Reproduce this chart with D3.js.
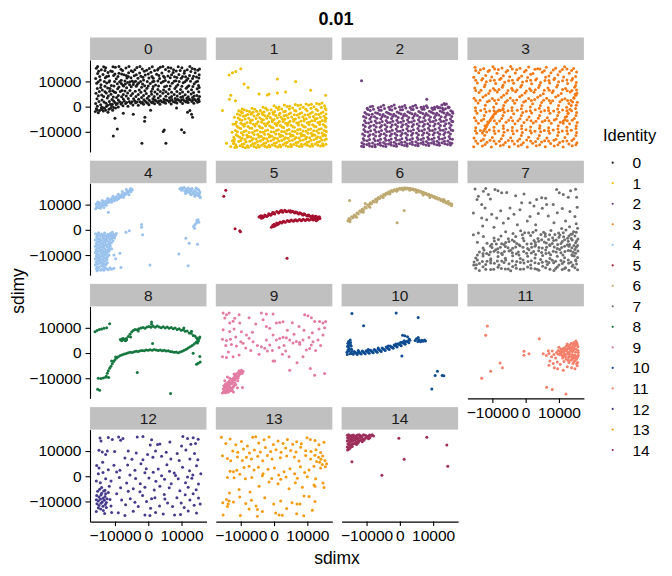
<!DOCTYPE html>
<html>
<head>
<meta charset="utf-8">
<script src="https://cdn.jsdelivr.net/npm/d3@7"></script>
<style>
  html, body { margin: 0; padding: 0; background: #ffffff; }
  svg { display: block; font-family: "Liberation Sans", Arial, sans-serif; }
</style>
</head>
<body>
<svg id="chart" width="672" height="576"></svg>
<script>
// ---------------- data (values in thousands: "x,y") ----------------
const categories = ["0","1","2","3","4","5","6","7","8","9","10","11","12","13","14"];
const colors = ["#1c1c1c","#efbf00","#6f3f7e","#f47a16","#98c1ec","#a6112f","#bda970","#6f6f6f",
                "#15773f","#e27aa1","#0e4c92","#f47f6b","#463a8c","#f49b12","#9e2e5a"];
const xTicks = [-10000, 0, 10000];
const yTicks = [-10000, 0, 10000];
const title = "0.01";

const pts0 = `-15.6,15.2 -14.1,14.6 -12.8,15.4 -11.3,14.1 -9.9,15.6 -8.2,14.8 -6.7,15.3 -5.1,14.2 -3.4,15.5 -1.8,14.9 0.3,15.1 1.9,14.3 3.6,15.6 5.2,14.7 6.8,15.3 8.4,14.1 10.1,15.4 11.7,14.6 13.2,15.1 14.9,14.4
-15.2,13.1 -13.6,12.7 -12.1,13.5 -10.4,12.4 -8.8,13.2 -7.3,12.6 -5.9,13.4 -4.2,12.3 -2.6,13.3 -0.9,12.5 0.8,13.6 2.5,12.8 4.1,13.3 5.9,12.2 7.5,13.5 9.2,12.7 10.8,13.2 12.4,12.4 14.1,13.4 15.3,12.6
-15.8,11.2 -14.4,10.6 -12.9,11.5 -11.6,10.3 -9.6,11.1 -8.1,10.5 -6.4,11.4 -4.8,10.2 -3.1,11.3 -1.4,10.6 0.2,11.4 1.7,10.1 3.4,11.2 5.1,10.4 6.6,11.5 8.3,10.3 9.9,11.3 11.5,10.5 13.3,11.2 14.8,10.1
-15.5,9.3 -14.2,8.7 -12.5,9.4 -11.1,8.4 -9.3,9.1 -7.6,8.5 -6.2,9.6 -4.5,8.8 -2.9,9.4 -1.1,8.3 0.6,9.2 2.2,8.6 3.9,9.5 5.5,8.2 7.2,9.3 8.9,8.7 10.5,9.5 12.2,8.3 13.8,9.1 15.1,8.4
-15.3,7.2 -13.8,6.6 -12.2,7.4 -10.7,6.3 -9.2,7.1 -7.9,6.4 -6.5,7.5 -5.1,7.9 -3.6,8.1 -2.0,7.7 -0.4,7.3 1.3,7.0 2.9,6.8 4.6,6.6 6.3,6.9 8.0,7.2 9.7,6.8 11.4,7.3 13.0,6.7 14.7,7.1
-15.7,5.3 -14.0,4.6 -12.6,5.4 -11.2,4.9 -9.8,5.6 -8.4,6.0 -7.0,6.2 -5.5,6.4 -3.9,6.1 -2.2,5.7 -0.6,5.2 1.0,4.9 2.7,5.0 4.4,5.3 6.0,5.1 7.8,4.8 9.5,5.2 11.1,4.7 12.9,5.0 14.6,4.4
-15.4,3.1 -13.9,2.6 -12.3,3.4 -10.9,2.8 -9.5,3.6 -8.0,3.9 -6.6,4.2 -5.2,4.4 -3.7,4.0 -2.0,3.6 -0.3,3.3 1.4,3.1 3.0,3.4 4.7,3.0 6.4,3.5 8.1,3.2 9.8,3.7 11.6,3.3 13.3,3.6 15.0,3.1
-15.8,1.2 -14.3,0.7 -12.7,1.3 -11.4,0.9 -10.0,1.6 -8.6,1.9 -7.2,2.2 -5.7,2.0 -4.1,2.3 -2.5,1.9 -0.9,2.1 0.8,1.8 2.4,2.2 4.1,1.9 5.8,2.4 7.5,2.0 9.2,2.5 10.9,2.2 12.6,2.7 14.3,2.4
-15.6,-0.8 -14.6,-1.5 -13.2,-0.6 -11.8,-1.0 -10.4,-0.3 -9.0,-0.1 -7.6,0.3 -6.1,0.2 -4.6,0.6 -3.0,0.5 -1.4,0.9 0.2,0.7 1.9,1.1 3.5,0.9 5.2,1.3 6.9,1.0 8.6,1.4 10.3,1.2 12.0,1.6 13.7,1.3
-15.9,-1.9 -15.0,-2.4 -13.5,-1.7 -12.1,-2.2 -10.7,-1.4
-14.9,14.0 -13.4,15.8 -11.9,12.2 -10.8,13.9 -9.1,12.0 -7.7,14.3 -6.0,12.0 -4.6,13.8 -2.2,12.1 -1.2,14.0 1.1,12.0 2.8,14.5 4.6,12.1 6.2,14.0 7.9,11.9 9.6,14.3 11.2,11.9 12.8,13.9 14.5,11.8 15.4,14.9
-15.0,9.9 -13.2,10.0 -11.8,9.8 -10.1,10.0 -8.6,9.9 -7.0,10.2 -5.5,9.9 -3.8,10.1 -2.3,10.0 -0.3,10.0 1.3,9.9 2.9,10.2 4.5,10.0 6.1,9.8 7.8,10.1 9.3,10.0 11.0,9.9 12.7,10.1 14.3,9.8
-14.7,6.0 -13.0,5.9 -11.6,6.1 -10.2,5.8 -8.8,7.8 -7.4,8.2 -4.3,9.7 -2.7,6.6 -1.0,6.3 0.9,6.0 2.0,5.8 3.6,6.0 5.3,5.9 7.0,5.7 8.6,6.0 10.3,5.8 12.0,5.9 13.6,5.6 15.2,5.9
-14.8,2.0 -13.3,1.8 -11.7,2.0 -10.4,2.2 -9.0,2.6 -7.5,3.0 -6.0,3.2 -4.4,3.1 -2.9,2.9 -1.3,2.7 0.3,2.5 2.0,2.7 3.7,2.4 5.4,2.6 7.1,2.8 8.8,2.9 10.5,2.8 12.2,3.0 13.9,2.9 15.3,2.0
-14.1,-0.4 -12.6,0.1 -11.0,0.3 -9.6,0.8 -8.2,1.0 -6.8,1.2 -5.3,1.3 -3.8,1.5 -2.1,1.4 -0.5,1.6 1.2,1.5 2.9,1.6 4.6,1.7 6.3,1.8 8.0,1.7 9.7,1.9 11.4,1.8 13.1,2.0 14.8,1.7
-10.0,-4.6 -9.3,-8.9 -10.5,-11.7 -1.9,-14.5 -1.0,-4.2 -1.1,-5.8 4.5,-9.9 5.3,-14.5 4.8,-9.3 10.0,-9.2 10.8,-10.3 -7.5,-2.6 -4.5,-3.0 0.7,-1.4 8.5,-0.5 12.5,-1.5 13.0,-3.0 13.3,-4.2 11.8,-2.2`;
const pts0Extra = `-15.2,15.9 -13.0,14.3 -10.6,15.8 -8.8,15.9 -5.8,15.9 -4.0,14.6 -2.5,15.9 -0.5,14.4 1.2,15.8 3.0,15.0 4.4,15.9 6.0,15.5 7.6,14.6 9.0,15.8 10.9,14.1 12.5,15.9 14.0,14.8
-14.6,12.0 -12.5,12.0 -10.0,12.9 -8.0,12.9 -6.6,12.4 -5.2,11.5 -3.6,12.6 -1.6,11.7 0.0,12.9 1.5,11.3 3.2,12.4 4.9,11.6 7.0,12.6 8.6,11.6 10.3,12.0 11.9,11.2 13.6,12.1 15.2,11.4
-14.3,7.6 -13.0,8.1 -11.5,7.2 -10.3,8.2 -8.1,9.2 -6.9,9.0 -5.6,8.7 -3.3,8.8 -1.7,9.0 0.0,8.2 1.5,8.0 3.1,8.2 4.9,7.9 6.6,8.2 8.4,8.0 10.1,8.1 11.8,7.9 13.4,8.0 15.3,7.6
-15.0,4.3 -13.4,4.0 -12.0,4.2 -10.5,3.8 -9.0,4.4 -7.5,4.8 -6.2,5.4 -4.7,5.2 -3.0,4.8 -1.4,4.4 0.2,4.1 1.8,4.0 3.6,4.2 5.3,4.1 7.0,4.0 8.7,4.2 10.4,4.0 12.0,3.9 13.8,4.2 15.4,4.0
-15.3,0.2 -13.8,-0.2 -12.2,0.5 -10.8,0.9 -9.3,1.2 -7.9,1.5 -6.5,1.6 -4.9,1.9 -3.4,1.8 -1.8,1.7 -0.2,1.3 1.5,2.0 3.2,2.1 4.9,2.4 6.6,2.4 8.3,2.4 10.0,2.6 11.7,2.5 13.4,2.6 15.2,2.7
-15.3,-1.3 -14.0,-1.1 -12.8,-1.4 -11.3,-0.6 -9.8,-0.5`;

const pts1 = `-10.6,-1.6 -9.0,-1.2 -7.4,-1.9 -5.8,-1.0 -4.1,-1.5 -2.5,-0.6 -0.9,-1.2 0.7,-0.3 2.3,-0.9 3.9,0.1 5.6,-0.5 7.2,0.4 8.8,-0.2 10.4,0.6 12.0,0.0 13.6,0.9 15.2,0.3
-11.0,-2.9 -9.5,-2.4 -7.9,-3.1 -6.3,-2.2 -4.6,-2.8 -3.0,-2.1 -1.4,-2.7 0.2,-1.9 1.8,-2.6 3.4,-1.8 5.0,-2.5 6.6,-1.7 8.3,-2.4 9.9,-1.6 11.5,-2.2 13.1,-1.5 14.7,-2.1 15.6,-1.2
-10.8,-4.5 -9.2,-3.8 -7.6,-4.6 -6.0,-3.7 -4.3,-4.4 -2.7,-3.6 -1.1,-4.3 0.5,-3.5 2.1,-4.2 3.7,-3.4 5.3,-4.1 7.0,-3.3 8.6,-4.0 10.2,-3.2 11.8,-3.9 13.4,-3.1 15.0,-3.8
-11.3,-6.1 -9.7,-5.4 -8.1,-6.3 -6.5,-5.3 -4.8,-6.0 -3.2,-5.2 -1.6,-6.1 0.0,-5.1 1.6,-5.9 3.2,-5.0 4.8,-5.8 6.4,-4.9 8.1,-5.7 9.7,-4.8 11.3,-5.6 12.9,-4.7 14.5,-5.5 15.6,-4.6
-11.1,-7.8 -9.4,-7.1 -7.8,-7.9 -6.2,-7.0 -4.5,-7.7 -2.9,-6.8 -1.3,-7.6 0.3,-6.7 1.9,-7.5 3.5,-6.6 5.1,-7.4 6.8,-6.5 8.4,-7.3 10.0,-6.4 11.6,-7.2 13.2,-6.3 14.8,-7.1
-11.6,-9.5 -10.0,-8.7 -8.4,-9.6 -6.7,-8.6 -5.1,-9.4 -3.5,-8.5 -1.9,-9.3 -0.3,-8.4 1.3,-9.2 2.9,-8.3 4.5,-9.1 6.1,-8.2 7.8,-9.0 9.4,-8.1 11.0,-8.9 12.6,-8.0 14.2,-8.8 15.6,-8.1
-11.4,-11.2 -9.8,-10.4 -8.2,-11.3 -6.5,-10.3 -4.9,-11.1 -3.3,-10.2 -1.7,-11.0 -0.1,-10.1 1.5,-10.9 3.1,-10.0 4.7,-10.8 6.3,-9.9 8.0,-10.7 9.6,-9.8 11.2,-10.6 12.8,-9.7 14.4,-10.5 15.7,-9.9
-11.9,-12.9 -10.3,-12.1 -8.7,-13.0 -7.0,-12.0 -5.4,-12.8 -3.8,-11.9 -2.2,-12.7 -0.6,-11.8 1.0,-12.6 2.6,-11.7 4.2,-12.5 5.8,-11.6 7.5,-12.4 9.1,-11.5 10.7,-12.3 12.3,-11.4 13.9,-12.2 15.5,-11.5
-12.2,-14.6 -10.6,-13.8 -9.0,-14.7 -7.3,-13.7 -5.7,-14.5 -4.1,-13.6 -2.5,-14.4 -0.9,-13.5 0.7,-14.3 2.3,-13.4 3.9,-14.2 5.5,-13.3 7.2,-14.1 8.8,-13.2 10.4,-14.0 12.0,-13.1 13.6,-13.9 15.2,-13.2
-11.8,-16.2 -10.2,-15.5 -8.6,-16.3 -6.9,-15.4 -5.3,-16.2 -3.7,-15.3 -2.1,-16.1 -0.5,-15.2 1.1,-16.0 2.7,-15.1 4.3,-15.9 5.9,-15.0 7.6,-15.8 9.2,-14.9 10.8,-15.7 12.4,-14.8 14.0,-15.6 15.6,-14.9
-10.0,-2.0 -8.2,-1.6 -6.8,-2.6 -5.2,-1.8 -3.6,-2.4 -2.0,-1.3 -0.3,-2.2 1.3,-1.1 2.9,-2.0 4.6,-0.9 6.2,-1.5 7.8,-0.8 9.5,-1.0 11.1,-0.6 12.7,-1.0 14.2,-0.3 15.4,-0.7
-10.3,-5.1 -8.7,-4.9 -7.1,-5.5 -5.4,-4.7 -3.8,-5.0 -2.2,-4.6 -0.6,-5.2 1.0,-4.5 2.6,-5.0 4.2,-4.4 5.9,-5.0 7.5,-4.3 9.1,-4.9 10.7,-4.1 12.3,-4.8 13.9,-4.2 15.4,-4.7
-10.6,-8.4 -9.0,-7.8 -7.3,-8.5 -5.7,-7.7 -4.1,-8.3 -2.5,-7.6 -0.8,-8.2 0.8,-7.5 2.4,-8.1 4.0,-7.4 5.7,-8.0 7.3,-7.3 8.9,-7.9 10.5,-7.2 12.1,-7.8 13.7,-7.1 15.3,-7.7
-10.9,-11.7 -9.3,-11.3 -7.6,-11.9 -6.0,-11.1 -4.4,-11.7 -2.8,-11.0 -1.1,-11.6 0.5,-10.9 2.1,-11.5 3.7,-10.8 5.4,-11.4 7.0,-10.7 8.6,-11.3 10.2,-10.6 11.8,-11.2 13.4,-10.5 15.0,-11.1
-11.5,-15.1 -9.6,-14.9 -8.0,-15.5 -6.4,-14.7 -4.8,-15.2 -3.1,-14.6 -1.5,-15.3 0.1,-14.5 1.7,-15.2 3.3,-14.4 5.0,-15.0 6.6,-14.3 8.2,-14.9 9.8,-14.2 11.4,-14.8 13.0,-14.1 14.6,-14.7
-12.5,-13.5 -13.0,-15.8 -14.3,-14.5 -12.6,-10.2 -12.3,-7.0 -11.9,-4.2
-13.5,12.5 -12.5,13.4 -11.5,13.9 -10.0,15.0 -9.0,9.0 -7.8,7.6 -13.0,4.5 -11.6,2.3 -13.4,2.9 -15.5,-1.5 -4.5,5.0 -1.5,5.0 1.0,11.0 3.5,5.8 6.5,10.0 1.0,5.4 11.0,6.5 15.5,4.5 -2.0,4.6`;
const pts1Extra = `-10.2,-3.3 -8.5,-3.5 -6.9,-3.0 -5.0,-3.4 -3.4,-3.2 -1.8,-3.6 -0.2,-3.0 1.5,-3.3 3.0,-3.6 4.5,-2.9 6.1,-3.2 7.7,-2.8 9.3,-3.3 10.9,-2.7 12.5,-3.0 14.1,-2.6 15.6,-2.9
-11.6,-6.9 -10.0,-6.6 -8.8,-7.0 -7.1,-6.4 -5.3,-6.8 -3.7,-6.2 -2.0,-6.7 -0.5,-6.0 1.1,-6.6 2.7,-5.9 4.3,-6.5 5.9,-5.8 7.4,-6.3 9.0,-5.7 10.6,-6.2 12.2,-5.6 13.8,-6.1 15.4,-5.8
-11.0,-10.0 -9.0,-9.9 -7.5,-10.3 -5.8,-9.7 -4.1,-10.1 -2.6,-9.6 -0.9,-10.0 0.7,-9.5 2.3,-9.9 3.9,-9.4 5.5,-9.8 7.1,-9.2 8.7,-9.7 10.3,-9.1 11.9,-9.6 13.5,-9.0 15.1,-9.5
-12.1,-12.1 -9.6,-12.5 -8.0,-12.1 -6.3,-12.6 -4.6,-12.0 -3.0,-12.5 -1.4,-12.0 0.2,-12.4 1.8,-11.9 3.4,-12.3 5.0,-11.8 6.6,-12.2 8.2,-11.7 9.8,-12.1 11.5,-11.6 13.1,-12.0 14.7,-11.6
-12.0,-13.8 -10.0,-13.4 -8.4,-13.9 -6.6,-13.2 -5.0,-13.8 -3.4,-13.1 -1.8,-13.7 -0.2,-13.0 1.4,-13.6 3.0,-12.9 4.6,-13.5 6.2,-12.8 7.9,-13.4 9.5,-12.7 11.1,-13.3 12.7,-12.6 14.3,-13.2 15.7,-12.8
-11.2,-16.0 -9.4,-15.9 -7.7,-16.1 -6.0,-15.8 -4.4,-16.0 -2.8,-15.7 -1.2,-15.9 0.4,-15.6 2.0,-15.9 3.6,-15.5 5.2,-15.8 6.8,-15.4 8.4,-15.7 10.0,-15.3 11.6,-15.6 13.2,-15.3 14.8,-15.5
-9.6,-0.9 -6.6,-0.6 -3.3,-0.2 0.0,0.3 3.1,0.6 6.4,0.8 9.6,1.0 12.8,1.2 14.4,1.4 11.2,0.9 8.0,0.6 4.7,0.2 1.5,-0.1`;

const pts2 = `-9.8,-0.6 -8.2,0.2 -6.5,-0.4 -4.9,0.5 -3.3,-0.2 -1.7,0.6 -0.1,-0.1 1.5,0.4 3.1,-0.3 4.7,0.5 6.4,-0.2 8.0,0.3 9.6,-0.5 11.2,0.1 12.8,-0.6 14.0,1.0 14.8,-0.2
-10.5,-2.3 -8.9,-1.5 -7.3,-2.4 -5.6,-1.4 -4.0,-2.2 -2.4,-1.3 -0.8,-2.1 0.8,-1.2 2.4,-2.0 4.0,-1.1 5.7,-1.9 7.3,-1.0 8.9,-1.8 10.5,-0.9 12.1,-1.7 13.7,-0.8 15.3,-1.6
-10.9,-3.9 -9.3,-3.2 -7.6,-4.0 -6.0,-3.1 -4.4,-3.8 -2.8,-3.0 -1.2,-3.7 0.4,-2.9 2.0,-3.6 3.6,-2.8 5.3,-3.5 6.9,-2.7 8.5,-3.4 10.1,-2.6 11.7,-3.3 13.3,-2.5 14.9,-3.2 15.9,-2.6
-10.6,-5.6 -9.0,-4.9 -7.4,-5.7 -5.7,-4.8 -4.1,-5.5 -2.5,-4.7 -0.9,-5.4 0.7,-4.6 2.3,-5.3 3.9,-4.5 5.6,-5.2 7.2,-4.4 8.8,-5.1 10.4,-4.3 12.0,-5.0 13.6,-4.2 15.2,-4.9
-11.0,-7.3 -9.4,-6.5 -7.8,-7.4 -6.1,-6.4 -4.5,-7.2 -2.9,-6.3 -1.3,-7.1 0.3,-6.2 1.9,-7.0 3.5,-6.1 5.2,-6.9 6.8,-6.0 8.4,-6.8 10.0,-5.9 11.6,-6.7 13.2,-5.8 14.8,-6.6 15.9,-5.9
-10.8,-9.1 -9.2,-8.3 -7.6,-9.2 -5.9,-8.2 -4.3,-9.0 -2.7,-8.1 -1.1,-8.9 0.5,-8.0 2.1,-8.8 3.7,-7.9 5.4,-8.7 7.0,-7.8 8.6,-8.6 10.2,-7.7 11.8,-8.5 13.4,-7.6 15.0,-8.4
-11.2,-10.9 -9.6,-10.1 -8.0,-11.0 -6.3,-10.0 -4.7,-10.8 -3.1,-9.9 -1.5,-10.7 0.1,-9.8 1.7,-10.6 3.3,-9.7 5.0,-10.5 6.6,-9.6 8.2,-10.4 9.8,-9.5 11.4,-10.3 13.0,-9.4 14.6,-10.2 15.9,-9.5
-11.0,-12.6 -9.4,-11.8 -7.8,-12.7 -6.1,-11.7 -4.5,-12.5 -2.9,-11.6 -1.3,-12.4 0.3,-11.5 1.9,-12.3 3.5,-11.4 5.2,-12.2 6.8,-11.3 8.4,-12.1 10.0,-11.2 11.6,-12.0 13.2,-11.1 14.8,-11.9
-11.4,-14.3 -9.8,-13.5 -8.2,-14.4 -6.5,-13.4 -4.9,-14.2 -3.3,-13.3 -1.7,-14.1 -0.1,-13.2 1.5,-14.0 3.1,-13.1 4.8,-13.9 6.4,-13.0 8.0,-13.8 9.6,-12.9 11.2,-13.7 12.8,-12.8 14.4,-13.6 15.8,-12.9
-11.5,-15.7 -9.9,-15.0 -8.3,-15.8 -6.6,-14.9 -5.0,-15.6 -3.4,-14.8 -1.8,-15.5 -0.2,-14.7 1.4,-15.4 3.0,-14.6 4.7,-15.3 6.3,-14.5 7.9,-15.2 9.5,-14.4 11.1,-15.1 12.7,-14.3 14.3,-15.0 15.6,-14.5
-9.6,-1.1 -7.9,-1.0 -6.2,-1.4 -4.6,-0.7 -3.0,-1.1 -1.4,-0.6 0.2,-1.2 1.8,-0.5 3.5,-1.1 5.1,-0.4 6.7,-1.0 8.3,-0.3 9.9,-1.1 11.5,-0.4 13.1,-1.2 14.6,-0.4 13.5,0.8
-10.2,-4.4 -8.6,-4.1 -6.9,-4.6 -5.3,-3.9 -3.7,-4.3 -2.1,-3.8 -0.5,-4.3 1.1,-3.7 2.7,-4.3 4.3,-3.6 6.0,-4.2 7.6,-3.5 9.2,-4.1 10.8,-3.4 12.4,-4.0 14.0,-3.3 15.6,-3.9
-10.4,-7.9 -8.8,-7.7 -7.1,-8.1 -5.5,-7.5 -3.9,-8.0 -2.3,-7.3 -0.7,-7.9 0.9,-7.2 2.5,-7.8 4.1,-7.1 5.8,-7.7 7.4,-7.0 9.0,-7.6 10.6,-6.9 12.2,-7.5 13.8,-6.8 15.4,-7.4
-10.6,-11.5 -9.0,-11.2 -7.3,-11.7 -5.7,-11.0 -4.1,-11.5 -2.5,-10.9 -0.9,-11.4 0.7,-10.7 2.3,-11.3 3.9,-10.6 5.6,-11.2 7.2,-10.5 8.8,-11.1 10.4,-10.4 12.0,-11.0 13.6,-10.3 15.2,-10.9
-10.8,-14.9 -9.2,-14.6 -7.5,-15.1 -5.9,-14.3 -4.3,-14.8 -2.7,-14.2 -1.1,-14.8 0.5,-14.1 2.1,-14.7 3.7,-14.0 5.4,-14.6 7.0,-13.9 8.6,-14.5 10.2,-13.8 11.8,-14.4 13.4,-13.7 15.0,-14.3
-11.5,10.3 8.1,2.9 12.6,0.6 13.3,1.2 14.5,-0.1`;
const pts2Extra = `-10.0,-2.9 -8.3,-3.0 -6.7,-2.6 -5.0,-3.1 -3.4,-2.6 -1.8,-3.0 -0.2,-2.5 1.4,-2.9 3.0,-2.4 4.6,-2.8 6.2,-2.3 7.9,-2.7 9.5,-2.2 11.1,-2.6 12.7,-2.1 14.3,-2.5 15.8,-2.0
-10.2,-6.4 -8.6,-6.0 -7.0,-6.5 -5.3,-5.9 -3.7,-6.3 -2.1,-5.8 -0.5,-6.3 1.1,-5.7 2.7,-6.2 4.3,-5.6 6.0,-6.1 7.6,-5.5 9.2,-6.0 10.8,-5.4 12.4,-5.9 14.0,-5.3 15.6,-5.8
-10.4,-9.9 -8.8,-9.6 -7.2,-10.1 -5.5,-9.5 -3.9,-9.9 -2.3,-9.4 -0.7,-9.8 0.9,-9.3 2.5,-9.7 4.1,-9.2 5.8,-9.6 7.4,-9.1 9.0,-9.5 10.6,-9.0 12.2,-9.4 13.8,-8.9 15.4,-9.3
-10.7,-13.3 -9.1,-13.0 -7.4,-13.5 -5.8,-12.9 -4.2,-13.3 -2.6,-12.8 -1.0,-13.2 0.6,-12.7 2.2,-13.1 3.8,-12.6 5.5,-13.0 7.1,-12.5 8.7,-12.9 10.3,-12.4 11.9,-12.8 13.5,-12.3 15.1,-12.7
-10.9,-15.9 -9.1,-15.6 -7.4,-15.9 -5.8,-15.3 -4.2,-15.8 -2.6,-15.2 -1.0,-15.7 0.6,-15.1 2.2,-15.6 3.8,-15.0 5.5,-15.5 7.1,-14.9 8.7,-15.4 10.3,-14.8 11.9,-15.3 13.5,-14.7 15.2,-15.2
-8.9,0.0 -5.7,0.0 -2.5,0.2 0.7,0.0 3.9,0.2 7.2,0.0 10.4,-0.2 12.0,-0.3`;

const pts3 = `-15.2,15.6 -12.6,15.1 -9.8,15.8 -7.1,15.3 -4.5,15.9 -1.7,15.2 0.9,15.7 3.6,15.0 6.2,15.6 9.0,15.2 11.7,15.8 14.4,15.1
-14.1,13.4 -11.3,13.9 -8.6,13.2 -5.9,13.7 -3.1,13.3 -0.4,13.8 2.2,13.1 5.0,13.6 7.6,13.4 10.3,13.9 13.1,13.2 15.3,13.7
-15.6,11.7 -12.9,11.2 -10.2,11.8 -7.4,11.3 -4.8,11.9 -2.0,11.4 0.6,11.6 3.3,11.1 6.0,11.7 8.7,11.3 11.4,11.8 14.1,11.2
-14.5,9.4 -11.8,9.9 -9.0,9.2 -6.3,9.7 -3.6,9.3 -0.9,9.8 1.8,9.1 4.5,9.6 7.2,9.4 9.9,9.9 12.6,9.2 15.2,9.6
-15.3,7.4 -12.4,7.9 -9.7,7.2 -7.0,7.7 -4.2,7.3 -1.5,7.8 1.2,7.1 3.9,7.6 6.7,7.4 9.3,7.8 12.0,7.2 14.7,7.7
-14.0,5.6 -11.1,5.2 -8.5,5.8 -5.7,5.3 -3.0,5.9 -0.2,5.4 2.5,5.7 5.3,5.1 8.0,5.6 10.7,5.2 13.4,5.8 15.4,5.3
-15.5,3.3 -12.8,3.8 -10.0,3.2 -7.3,3.7 -4.6,3.4 -1.8,3.9 0.9,3.2 3.6,3.7 6.3,3.3 9.0,3.8 11.8,3.1 14.5,3.6
-14.3,1.4 -11.5,1.9 -8.8,1.2 -6.1,1.7 -3.3,1.3 -0.6,1.8 2.1,1.1 4.8,1.6 7.5,1.4 10.3,1.9 13.0,1.2 15.5,1.7
-15.1,-0.4 -12.3,-0.9 -9.6,-0.2 -6.8,-0.7 -4.1,-0.3 -1.3,-0.8 1.4,-0.1 4.1,-0.6 6.8,-0.4 9.6,-0.9 12.3,-0.2 15.0,-0.7
-14.6,-2.6 -11.9,-2.1 -9.1,-2.7 -6.4,-2.2 -3.6,-2.8 -0.9,-2.3 1.8,-2.5 4.6,-2.0 7.3,-2.6 10.0,-2.2 12.7,-2.8 15.3,-2.3
-15.4,-4.4 -12.6,-4.9 -9.9,-4.2 -7.2,-4.7 -4.4,-4.3 -1.7,-4.8 1.0,-4.1 3.8,-4.6 6.5,-4.4 9.2,-4.9 11.9,-4.2 14.6,-4.7
-14.2,-6.6 -11.4,-6.1 -8.7,-6.7 -5.9,-6.2 -3.2,-6.8 -0.5,-6.3 2.3,-6.5 5.0,-6.0 7.7,-6.6 10.4,-6.2 13.2,-6.8 15.5,-6.3
-15.0,-8.4 -12.2,-8.9 -9.5,-8.2 -6.7,-8.7 -4.0,-8.3 -1.2,-8.8 1.5,-8.1 4.2,-8.6 6.9,-8.4 9.7,-8.9 12.4,-8.2 15.1,-8.7
-14.7,-10.6 -11.7,-10.1 -9.2,-10.7 -6.5,-10.2 -3.7,-10.8 -1.0,-10.3 1.7,-10.5 4.5,-10.0 7.2,-10.6 9.9,-10.2 12.6,-10.8 15.3,-10.3
-15.5,-12.4 -12.7,-12.9 -10.0,-12.2 -7.3,-12.7 -4.5,-12.3 -1.8,-12.8 0.9,-12.1 3.7,-12.6 6.4,-12.4 9.1,-12.9 11.8,-12.2 14.5,-12.7
-14.4,-14.6 -11.6,-14.1 -8.9,-14.7 -6.1,-14.2 -3.4,-14.8 -0.7,-14.3 2.1,-14.5 4.8,-14.0 7.5,-14.6 10.2,-14.2 13.0,-14.8 15.4,-14.3
-15.6,-15.9 -13.0,-15.6 -10.3,-16.0 -7.6,-15.5 -4.9,-15.9 -2.2,-15.6 0.5,-16.0 3.2,-15.5 5.9,-15.9 8.6,-15.6 11.3,-16.0 14.0,-15.5
-13.6,14.6 -10.9,14.4 -8.2,14.7 -5.4,14.3 -2.7,14.6 0.1,14.4 2.8,14.8 5.6,14.2 8.3,14.5 11.0,14.7 13.8,14.3
-13.2,10.6 -10.6,10.4 -7.8,10.8 -5.1,10.3 -2.4,10.7 0.3,10.2 3.0,10.6 5.8,10.4 8.5,10.8 11.1,10.3 13.8,10.5
-13.4,6.5 -10.7,6.3 -8.0,6.8 -5.3,6.4 -2.6,6.6 0.2,6.2 2.9,6.7 5.6,6.5 8.3,6.3 11.1,6.8 13.9,6.4
-13.7,2.5 -10.9,2.3 -8.2,2.7 -5.5,2.4 -2.7,2.6 0.0,2.2 2.7,2.8 5.4,2.5 8.1,2.3 10.9,2.7 13.6,2.4
-13.5,-1.5 -10.8,-1.7 -8.0,-1.3 -5.3,-1.6 -2.5,-1.4 0.2,-1.8 2.9,-1.2 5.7,-1.5 8.4,-1.7 11.1,-1.3 13.8,-1.6
-13.3,-5.5 -10.6,-5.3 -7.8,-5.7 -5.1,-5.4 -2.3,-5.6 0.4,-5.2 3.1,-5.8 5.8,-5.5 8.6,-5.3 11.3,-5.7 14.0,-5.4
-13.6,-9.5 -10.9,-9.3 -8.1,-9.7 -5.4,-9.4 -2.6,-9.6 0.1,-9.2 2.8,-9.8 5.6,-9.5 8.3,-9.3 11.0,-9.7 13.7,-9.4
-13.4,-13.5 -10.7,-13.3 -7.9,-13.7 -5.2,-13.4 -2.4,-13.6 0.3,-13.2 3.0,-13.8 5.7,-13.5 8.5,-13.3 11.2,-13.7 13.9,-13.4
-13.0,-10.5 -12.6,-9.6 -12.2,-8.8 -11.8,-8.0 -11.5,-7.1 -11.1,-6.3 -10.7,-5.5 -10.3,-4.6 -9.9,-3.8 -9.5,-3.0 -9.0,-2.3 -8.4,-1.8 -7.6,-1.5 -6.8,-1.2
11.3,-6.6 11.8,-5.2 12.3,-3.9 12.8,-2.5 13.3,-1.0 13.7,0.4 14.1,1.8 14.5,3.3 14.9,4.9 15.3,6.6`;
const pts3Extra = `-15.0,14.3 -12.0,12.4 -9.3,14.9 -6.7,12.3 -4.0,14.9 -1.2,12.2 1.5,12.8 4.3,14.9 7.0,12.2 9.7,12.6 12.4,14.9 15.0,12.0
-15.0,10.5 -12.2,8.7 -9.4,10.5 -6.8,8.5 -4.0,10.5 -1.2,8.5 1.5,10.5 4.2,8.5 7.0,10.4 9.6,8.6 12.4,10.6 15.0,8.4
-15.0,6.4 -12.0,4.5 -9.2,6.5 -6.6,4.5 -3.9,6.5 -1.1,4.5 1.6,6.4 4.4,4.4 7.1,6.5 9.8,4.4 12.5,6.3 15.1,4.5
-15.0,2.4 -12.1,0.5 -9.3,2.4 -6.6,0.4 -3.8,2.4 -1.1,0.4 1.7,2.4 4.4,0.4 7.1,2.4 9.9,0.4 12.6,2.4 15.2,0.5
-15.0,-1.6 -12.4,-3.5 -9.5,-1.6 -6.8,-3.5 -4.1,-1.5 -1.3,-3.5 1.4,-1.6 4.2,-3.5 6.9,-1.5 9.6,-3.5 12.4,-1.6 15.1,-3.5
-14.9,-5.6 -12.2,-7.6 -9.4,-5.6 -6.7,-7.6 -3.9,-5.6 -1.2,-7.6 1.6,-5.6 4.3,-7.6 7.0,-5.6 9.8,-7.6 12.5,-5.6 15.2,-7.6
-15.1,-9.6 -12.3,-11.4 -9.5,-9.6 -6.8,-11.5 -4.0,-9.6 -1.3,-11.5 1.4,-9.6 4.1,-11.5 6.9,-9.6 9.6,-11.5 12.4,-9.6 15.1,-11.5
-15.0,-13.6 -12.2,-15.0 -9.5,-13.6 -6.7,-15.1 -4.0,-13.6 -1.3,-15.1 1.5,-13.6 4.2,-15.1 6.9,-13.6 9.7,-15.1 12.4,-13.6 15.1,-15.1`;

const pts4 = `-15.8,8.4 -15.5,9.3 -15.7,10.2 -15.0,8.9 -14.8,9.9 -14.6,10.7 -14.2,9.3 -13.9,10.4 -13.5,11.0 -13.1,10.1 -12.8,11.4 -12.4,10.8 -12.0,11.9 -11.6,11.2 -11.2,12.3 -10.8,11.7 -10.4,12.6 -10.0,12.2 -9.6,13.1 -9.2,12.6 -8.8,13.5 -8.4,13.0 -8.0,14.0 -7.6,13.6 -7.2,14.5 -6.8,14.1 -6.4,15.0 -6.0,14.6 -5.6,15.5 -5.2,15.1 -6.6,16.0 -7.8,15.2 -9.0,14.1 -10.6,13.3 -12.2,12.4 -13.8,11.6 -15.2,11.0 -14.4,8.6 -12.6,9.8 -11.0,10.9 -9.4,11.8 -7.4,12.9 -5.8,13.9 -4.8,15.8 -5.4,16.3 -13.3,8.9 -12.0,7.0
9.5,16.3 10.0,15.7 10.5,16.5 11.0,15.3 11.4,16.1 11.8,14.9 12.2,15.8 12.6,14.5 13.0,15.4 13.4,14.2 13.8,15.1 14.2,13.9 14.6,14.8 15.0,13.6 15.4,14.5 15.6,13.1 14.8,16.2 13.2,16.4 12.0,16.6 15.2,15.8 15.6,12.7 14.0,13.3 12.8,13.9 11.2,14.4 10.8,16.8 14.4,16.6
-15.8,-1.6 -14.9,-1.2 -14.0,-1.7 -13.1,-1.3 -12.2,-1.8 -11.3,-1.4 -10.4,-1.9 -9.6,-1.5
-15.5,-2.8 -14.6,-2.4 -13.7,-3.0 -12.8,-2.5 -11.9,-3.1 -11.0,-2.6 -10.1,-3.2 -9.9,-2.2
-15.9,-4.0 -15.0,-3.6 -14.1,-4.2 -13.2,-3.7 -12.3,-4.3 -11.4,-3.8 -10.6,-4.4
-15.6,-5.3 -14.7,-4.9 -13.8,-5.4 -12.9,-5.0 -12.0,-5.6 -11.1,-5.1
-15.9,-6.5 -15.0,-6.1 -14.1,-6.7 -13.2,-6.2 -12.3,-6.8 -11.4,-6.3
-15.7,-7.8 -14.8,-7.4 -13.9,-7.9 -13.0,-7.5 -12.1,-8.0 -11.3,-7.6
-15.9,-9.0 -15.0,-8.6 -14.1,-9.2 -13.2,-8.7 -12.4,-9.3
-15.6,-10.3 -14.7,-9.9 -13.8,-10.4 -12.9,-10.0 -12.2,-10.6
-15.9,-11.5 -15.0,-11.1 -14.1,-11.7 -13.2,-11.2 -12.4,-11.8
-15.7,-12.8 -14.8,-12.4 -13.9,-12.9 -13.0,-12.5 -12.3,-13.1
-15.9,-14.0 -15.0,-13.6 -14.1,-14.2 -13.2,-13.7
-15.6,-15.3 -14.7,-14.9 -13.8,-15.5 -12.9,-15.0 -12.0,-15.8 -11.0,-15.6 -10.3,-15.2
-15.3,-2.0 -13.5,-2.1 -11.7,-2.2 -10.8,-1.0 -15.2,-4.6 -13.4,-4.7 -11.7,-4.8 -15.3,-7.1 -13.5,-7.0 -11.8,-7.2 -15.3,-9.6 -13.6,-9.7 -15.2,-12.1 -13.5,-12.0 -15.3,-14.6 -13.5,-14.5 -14.3,-16.0 -15.4,-16.2
-11.0,-7.5 -8.5,-9.3 -10.3,-10.0 -9.8,-11.5 -8.2,-14.9 -6.7,-1.0 -5.7,-0.4 -2.0,1.0 -1.7,-2.0 0.5,-14.0 9.2,-9.6 12.0,-14.3 11.3,-3.3 12.3,-5.3 14.8,-5.7 13.6,1.3 14.0,2.0 14.4,2.6 14.8,3.3 15.0,4.0 14.6,3.8 15.2,3.0 13.9,0.6 -2.0,2.1`;
const pts4Extra = `-15.4,-1.9 -14.4,-2.2 -13.2,-2.2 -12.4,-2.6 -11.1,-2.1 -10.5,-2.6 -15.3,-3.3 -14.5,-3.5 -13.4,-3.3 -12.6,-3.6 -11.6,-3.3 -10.9,-3.5 -15.4,-5.8 -14.3,-5.7 -13.5,-6.0 -12.6,-6.0 -11.7,-5.8 -15.4,-8.4 -14.4,-8.2 -13.6,-8.4 -12.6,-8.4 -11.8,-8.5 -15.3,-10.9 -14.4,-10.8 -13.4,-10.8 -12.6,-11.2 -15.4,-13.4 -14.4,-13.1 -13.6,-13.4 -12.7,-13.9 -15.2,-15.8 -13.3,-16.0 -12.5,-15.4 -11.5,-15.0 -14.6,-12.0 -14.5,-7.0 -14.5,-4.5 -12.8,-4.3 -12.9,-9.0 -11.8,-10.0
-15.3,8.9 -14.0,9.8 -12.9,10.5 -11.4,11.6 -9.9,12.6 -8.6,13.4 -7.0,13.9 -6.2,15.4 -5.0,16.2 -15.0,10.2 -13.6,9.8 -12.0,10.8 -10.2,11.5 -8.8,12.4 -7.9,13.0
10.2,16.0 11.7,15.4 12.4,15.1 13.6,14.6 14.4,14.0 15.2,13.9 10.0,16.7 12.8,16.2 14.0,15.6 15.5,15.0`;

const pts5 = `-4.5,5.1 -4.0,5.6 -3.4,4.8 -2.8,5.9 -2.2,5.3 -1.6,6.4 -1.0,5.8 -0.4,6.9 0.2,6.3 0.8,7.3 1.4,6.7 2.0,7.6 2.6,7.0 3.2,7.8 3.8,7.2 4.4,7.6 5.0,7.0 5.6,7.4 6.2,6.7 6.8,7.0 7.4,6.3 8.0,6.6 8.6,5.9 9.2,6.2 9.8,5.6 10.4,5.9 11.0,5.3 11.6,5.6 12.2,5.0 12.8,5.2 13.4,4.7 -3.8,4.6 -1.9,5.6 0.0,6.8 1.7,7.2 3.5,7.5 5.3,7.3 7.1,6.6 8.9,6.0 10.7,5.5 12.5,5.4 -3.0,5.2 -0.7,6.3 2.3,7.3 4.7,7.3 6.5,7.1 8.3,6.3 10.1,5.8 11.9,5.3
-0.8,1.0 -0.4,1.7 0.0,2.2 0.4,1.8 0.8,2.7 1.3,2.3 1.8,3.1 2.3,2.7 2.8,3.4 3.4,3.0 4.0,3.7 4.6,3.3 5.2,3.9 5.8,3.4 6.4,4.0 7.0,3.5 7.6,4.1 8.2,3.6 8.8,4.2 9.4,3.7 10.0,4.3 10.6,3.8 11.2,4.4 11.8,3.9 12.4,4.5 13.0,4.0 13.5,4.6 -0.2,1.3 1.0,2.0 2.5,3.0 4.3,3.4 6.1,3.7 7.9,3.9 9.7,4.0 11.5,4.1 12.7,3.6 13.6,5.2
-14.5,15.7 -15.1,13.3 -11.7,0.4 -10.3,-0.4 -10.1,-0.8 3.9,-11.3`;
const pts5Extra = `-4.2,5.3 -3.6,5.5 -2.5,5.6 -1.3,6.1 -0.1,6.5 1.1,7.0 2.3,7.7 3.6,7.3 4.9,7.6 6.0,7.1 7.7,6.8 9.0,6.4 10.4,5.6 11.6,5.2 12.9,5.0 13.6,4.9 13.8,4.5 0.3,1.5 1.5,2.6 3.1,3.2 4.9,3.6 6.7,3.8 8.5,3.9 10.3,4.1 12.1,4.2 13.3,4.3`;

const pts6 = `-15.6,3.6 -15.3,4.5 -14.9,4.1 -14.5,5.2 -14.1,4.8 -13.7,5.9 -13.3,5.5 -12.9,6.7 -12.5,6.3 -12.1,7.5 -11.7,7.1 -11.3,8.3 -10.9,7.9 -10.5,9.1 -10.1,8.7 -9.7,9.9 -9.3,9.5 -8.9,10.7 -8.5,10.3 -8.1,11.4 -7.7,11.0 -7.3,12.1 -6.9,11.7 -6.5,12.8 -6.1,12.4 -5.7,13.4 -5.3,13.0 -4.9,14.0 -4.5,13.7 -4.1,14.6 -3.7,14.3 -3.3,15.1 -2.9,14.8 -2.5,15.6 -2.1,15.2 -1.7,15.9 -1.3,15.6 -0.9,16.2 -0.5,15.8 -0.1,16.5 0.3,16.1 0.7,16.6 1.1,16.2 1.5,16.7 1.9,16.2 2.3,16.6 2.7,16.1 3.1,16.5 3.5,16.0 3.9,16.3 4.3,15.7 4.7,16.0 5.1,15.4 5.5,15.7 5.9,15.0 6.3,15.3 6.7,14.6 7.1,14.9 7.5,14.2 7.9,14.5 8.3,13.8 8.7,14.1 9.1,13.4 9.5,13.7 9.9,13.0 10.3,13.3 10.7,12.5 11.1,12.8 11.5,12.1 11.9,12.4 12.3,11.6 12.7,11.9 13.1,11.1 13.5,11.4 13.9,10.6 14.3,10.9 14.7,10.1 15.1,10.4 15.5,9.6 15.6,10.2 13.2,12.0 14.5,11.3 -15.0,3.2 -13.0,5.0 -11.0,7.0 -9.0,9.0 -7.0,11.0 -5.0,12.8 -3.0,14.2 -1.0,15.3 1.0,15.8 3.0,15.7 5.0,14.9 7.0,13.8 9.0,12.8
-15.1,11.6 -10.4,10.4 1.3,7.7 -0.8,2.8`;
const pts6Extra = `-15.2,3.9 -13.9,5.3 -12.7,6.5 -11.5,7.7 -10.3,8.9 -9.1,10.1 -7.9,11.2 -6.7,12.3 -5.5,13.2 -4.3,14.2 -3.1,14.9 -1.9,15.6 -0.7,16.0 0.5,16.4 1.7,16.5 2.9,16.3 4.1,16.0 5.3,15.5 6.5,15.0 7.7,14.4 8.9,13.7 10.1,13.1 11.3,12.4 12.5,11.8 13.7,11.0 14.9,10.3`;

const pts7 = `-15.2,16.2 -14.2,13.3 -12.7,15.3 -11.2,14.0 -9.2,16.0 -7.2,14.7 -5.7,14.8 -13.2,10.0 -12.2,8.7 -14.6,12.0 -10.6,12.2 -8.3,15.5 -12.0,16.4 9.3,16.0 11.3,14.0 12.8,12.9 15.3,12.9 10.1,14.7 13.5,15.5 15.0,16.1 3.3,12.0 4.8,12.7 -1.2,10.7 1.3,10.7 6.3,10.0 8.3,10.0 2.5,9.5 5.0,8.6 -4.7,8.7 -1.7,8.0 -3.5,6.2 1.3,5.3 3.8,6.5 6.8,5.5 9.5,6.8 11.0,8.5 13.3,7.3 14.8,5.3 15.5,9.0 -15.7,6.7 -13.2,4.7 -11.7,4.0 -8.7,4.7 -6.7,2.7 -10.2,6.2 -7.5,7.6 -15.7,-2.0 -14.2,-1.3 -12.7,-2.6 -3.0,13.5 -0.5,14.2 0.5,3.5 -2.5,2.0 -5.2,4.5 3.0,2.0 8.5,2.8 12.0,3.5 15.2,2.4 -9.5,1.0 -12.9,1.5 6.0,12.5
-6.0,-0.8 -3.8,-1.5 -1.5,-0.4 0.9,-1.2 3.1,-0.2 5.4,-1.0 7.6,-0.3 9.9,-1.3 12.1,-0.1 14.4,-0.8 15.6,0.6 13.2,1.2 10.8,0.5
-9.5,-3.2 -7.4,-2.4 -5.2,-3.5 -3.0,-2.6 -0.8,-3.3 1.5,-2.2 3.7,-3.4 5.9,-2.5 8.1,-3.1 10.3,-2.1 12.6,-3.3 14.8,-2.4 15.7,-3.6 13.6,-1.8 11.4,-2.7
-14.5,-4.9 -11.6,-5.3 -9.4,-4.4 -7.2,-5.5 -5.0,-4.6 -2.7,-5.4 -0.5,-4.3 1.7,-5.5 3.9,-4.5 6.2,-5.2 8.4,-4.2 10.6,-5.4 12.8,-4.5 15.0,-5.1 14.0,-4.0 11.7,-3.9 4.8,-3.9
-12.8,-7.2 -10.6,-6.4 -8.4,-7.5 -6.1,-6.6 -3.9,-7.3 -1.7,-6.3 0.6,-7.4 2.8,-6.5 5.0,-7.2 7.3,-6.2 9.5,-7.4 11.7,-6.5 13.9,-7.1 15.6,-6.2 14.8,-7.8 12.5,-5.9
-13.9,-8.8 -11.7,-9.4 -9.5,-8.5 -7.2,-9.3 -5.0,-8.4 -2.8,-9.5 -0.6,-8.6 1.7,-9.2 3.9,-8.3 6.1,-9.4 8.3,-8.5 10.6,-9.1 12.8,-8.2 15.0,-9.3 15.7,-8.4 13.9,-9.9
-15.0,-11.2 -12.8,-10.4 -10.5,-11.5 -8.3,-10.6 -6.1,-11.3 -3.9,-10.3 -1.6,-11.4 0.6,-10.5 2.8,-11.2 5.1,-10.2 7.3,-11.4 9.5,-10.5 11.7,-11.1 14.0,-10.2 15.6,-11.0 12.8,-12.0
-15.5,-12.8 -13.9,-13.4 -11.6,-12.5 -9.4,-13.3 -7.2,-12.4 -5.0,-13.5 -2.7,-12.6 -0.5,-13.2 1.7,-12.3 3.9,-13.4 6.2,-12.5 8.4,-13.1 10.6,-12.2 12.9,-13.3 15.1,-12.4 14.2,-14.0
-15.0,-15.2 -12.8,-14.6 -10.5,-15.7 -8.3,-14.8 -6.1,-15.5 -3.9,-14.5 -1.6,-15.6 0.6,-14.7 2.8,-15.4 5.1,-14.4 7.3,-15.6 9.5,-14.7 11.7,-15.3 14.0,-14.4 15.6,-15.8 13.0,-16.0 -13.9,-16.1 -4.5,-16.2 4.0,-16.0 8.5,-16.1
5.9,-1.6 8.8,-1.9 11.3,-1.2 14.0,-1.7 6.9,-3.8 9.2,-4.0 13.7,-3.4 2.5,-4.2 -4.0,-4.0 -8.2,-3.8 -1.0,-2.0 7.2,-5.9 9.6,-5.8 14.5,-6.2 3.0,-6.0 -2.0,-5.9 -6.5,-5.8 -10.2,-5.7 6.0,-8.0 10.2,-7.8 13.5,-8.3 1.0,-7.9 -4.5,-8.1 -9.0,-7.9 -12.5,-8.0 7.5,-9.9 11.2,-10.0 14.6,-10.4 3.0,-9.8 -2.0,-10.0 -7.0,-9.8 -11.0,-9.9 -14.5,-10.0 8.0,-12.1 11.5,-12.7 4.5,-11.8 -0.8,-12.0 -6.0,-12.0 -10.5,-12.2 -14.5,-12.0 10.0,-14.0 6.5,-13.8 1.5,-14.0 -3.0,-14.0 -8.0,-14.0 -12.0,-13.8 -15.6,-14.0 12.0,-15.0 15.3,-13.6`;
const pts7Extra = `15.2,-1.0 13.0,-2.4 10.0,-2.9 7.2,-2.0 4.6,-1.9 2.2,-1.0 -0.3,-1.2 15.3,-4.4 13.2,-5.8 11.0,-4.6 8.0,-5.4 5.6,-4.8 2.9,-5.0 0.4,-5.6 -3.4,-4.6 -6.0,-5.0 -8.8,-5.6 15.2,-6.9 13.0,-6.5 10.8,-7.0 8.6,-6.8 6.3,-6.9 4.0,-7.0 1.8,-6.9 -0.8,-6.9 -3.0,-6.8 -5.3,-7.1 -7.6,-6.9 -10.1,-7.0 14.3,-8.9 11.8,-8.6 9.2,-8.8 7.0,-9.1 4.8,-9.0 2.4,-8.6 0.3,-9.3 -2.2,-8.8 -4.0,-9.1 -6.4,-8.6 -8.3,-8.9 -10.6,-8.8 -12.8,-9.4 15.0,-12.0 13.6,-12.9 11.0,-13.4 9.0,-12.5 7.0,-13.0 5.0,-12.9 2.8,-13.1 0.7,-12.6 -1.6,-13.0 -4.0,-12.4 -6.5,-13.0 -8.5,-12.4 -10.5,-13.2 -13.0,-12.6 14.8,-15.0 11.0,-15.7 9.0,-15.3 6.0,-15.0 3.5,-15.6 1.6,-15.2 -0.6,-15.5 -2.8,-15.2 -5.2,-15.5 -7.3,-15.3 -9.6,-15.6 -12.0,-15.6 -14.8,-13.9`;

const pts8 = `-8.4,5.4 -7.8,5.7 -7.2,5.2 -6.6,5.8 -6.0,6.6 -5.5,7.5 -5.0,8.3 -4.5,8.9 -4.0,9.3 -3.4,9.2 -2.8,9.6 -2.2,9.9 -1.6,10.1 -1.0,9.8 -0.4,10.3 0.2,10.5 0.8,10.2 1.0,11.4 1.0,12.3 1.5,10.6 2.1,10.2 2.7,10.7 3.3,10.3 3.9,10.0 4.5,10.4 5.1,9.9 5.7,10.3 6.3,9.8 6.9,10.1 7.5,9.6 8.1,9.9 8.7,9.3 9.3,9.6 9.9,9.0 10.5,9.2 11.1,8.6 11.7,8.7 12.3,7.9 12.9,7.8 13.5,7.0 14.0,6.8 14.5,6.1 14.8,5.5 15.1,4.8 15.3,5.8 14.6,4.5 15.5,6.4 13.0,8.6 10.7,9.9 -3.0,8.7 -5.3,6.4 -6.8,4.9
-12.6,-9.2 -12.3,-8.0 -12.0,-7.0 -11.6,-6.0 -11.2,-5.2 -10.8,-4.3 -10.4,-3.4 -10.0,-2.7 -9.5,-2.0 -9.0,-1.5 -8.4,-1.0 -7.8,-0.7 -7.2,-0.4 -6.6,-0.2 -6.0,0.1 -5.4,0.3 -4.8,0.2 -4.2,0.5 -3.6,0.7 -3.0,0.6 -2.4,0.9 -1.8,1.0 -1.2,0.9 -0.6,1.2 0.0,1.1 0.6,1.3 1.2,1.1 1.8,1.4 2.4,1.2 3.0,1.0 3.6,1.2 4.2,0.9 4.8,1.1 5.4,0.8 6.0,0.9 6.6,0.6 7.2,0.5 7.8,0.3 8.4,0.4 9.0,0.1 9.6,0.4 10.2,0.7 10.8,1.1 11.4,1.5 12.0,2.0 12.6,2.5 13.2,3.0 13.8,3.6 14.3,4.2 14.8,4.0 -11.9,-9.7 -11.0,-3.2 -9.8,-1.6
-16.0,8.4 -15.4,8.9 -14.7,9.3 -14.0,9.5 -13.3,9.8 -12.5,10.0 -11.6,11.6 -15.0,-10.0 -14.2,-10.1 -13.5,-9.9 -12.8,-9.6 -15.2,-14.4 -14.6,-14.8 -3.3,-7.7 6.7,-16.1 1.3,3.8 15.0,-4.1 14.5,-4.5 15.5,-1.4 15.6,-3.6 13.5,-0.1 -7.5,5.8 -6.5,5.3 -8.0,4.9`;

const pts9 = `-15.3,15.9 -14.3,15.2 -13.5,15.9 -14.8,13.9 -13.3,11.9 -12.3,12.6 -10.5,15.2 -10.3,11.9 -11.8,13.8 -15.3,9.2 -13.3,8.5 -12.0,9.5 -15.5,5.5 -14.3,5.0 -13.1,5.5 -11.5,6.4 -15.5,-1.5 -14.3,-1.8 -12.3,-1.5 -10.5,-0.8 -9.3,3.9 -8.3,7.2 -7.5,5.9 -6.3,4.5 -8.5,2.0 -7.0,1.0 -10.0,4.5 -11.3,2.8 -12.8,3.4 -14.5,3.0 -13.7,0.4 -9.8,8.4 -6.5,8.2 -5.0,3.0 -3.8,15.9 -2.3,15.5 -0.3,15.5 -3.3,13.2 -2.3,10.5 -1.3,9.8 0.7,11.9 1.7,12.1 2.7,12.4 -0.3,7.2 -2.3,5.2 -3.8,2.5 -2.8,1.9 -1.3,3.2 0.7,5.2 1.7,5.8 2.7,6.3 3.7,6.1 4.7,5.2 5.7,4.0 6.7,4.6 7.7,3.5 3.0,3.0 1.5,2.2 -0.5,1.0 -2.0,0.8 0.2,-3.2 -0.3,-3.2 4.7,-6.8 6.9,-3.9 4.5,-1.5 2.5,-0.5 -4.5,-0.5 9.2,15.2 10.2,14.8 11.2,14.0 12.2,12.5 13.7,12.5 14.7,11.9 15.2,10.0 14.7,7.2 13.2,5.2 11.7,4.5 11.2,3.2 8.7,5.2 7.7,4.2 9.7,1.2 10.7,1.8 8.7,-1.5 12.2,-8.8 15.2,-8.1 10.9,-6.1 5.5,12.0 7.5,10.5 9.0,9.0 11.5,8.0 13.5,9.5 6.0,7.5 4.0,9.0 12.5,1.0 14.0,3.0 15.5,12.5 10.5,6.2 3.5,0.8 -5.5,11.5 -7.5,14.0
-15.5,-15.9 -15.0,-15.2 -14.6,-15.8 -14.1,-14.6 -13.6,-15.3 -15.3,-14.3 -14.8,-13.5 -14.2,-13.9 -13.7,-12.8 -13.2,-13.6 -12.7,-14.4 -14.6,-12.3 -14.0,-11.8 -13.5,-11.2 -13.0,-12.0 -12.5,-11.4 -12.8,-10.5 -12.2,-9.9 -11.7,-10.6 -11.2,-9.3 -10.8,-9.9 -11.5,-8.5 -11.0,-7.9 -10.4,-8.4 -10.0,-7.6 -9.6,-8.1 -10.5,-7.0 -9.8,-6.8 -9.3,-7.3 -11.8,-11.8 -12.0,-13.0 -13.3,-10.0 -12.0,-8.3 -10.9,-11.0 -11.5,-12.5 -12.6,-15.0 -13.6,-14.2 -14.8,-11.0 -14.0,-9.5 -12.2,-15.5 -11.0,-13.8 -9.5,-13.7`;
const pts9Extra = `-15.2,-15.6 -14.4,-15.1 -13.9,-15.6 -14.9,-14.1 -14.4,-13.3 -13.9,-13.0 -13.4,-12.5 -14.2,-12.6 -13.3,-11.8 -12.6,-12.3 -12.4,-10.9 -11.9,-10.3 -11.4,-9.8 -11.8,-9.1 -10.6,-8.9 -10.2,-8.0 -9.9,-7.2 -12.3,-13.6 -12.9,-14.0 -13.2,-15.0 -14.0,-14.0 -15.1,-13.0`;

const pts10 = `-15.9,0.3 -15.6,1.2 -15.3,2.1 -15.5,3.0 -15.1,3.8 -15.4,4.6 -14.8,4.2 -14.6,2.8 -15.8,-0.6 -15.0,-0.3 -14.4,0.6 -14.0,-0.5 -13.4,0.2 -12.8,-0.6 -12.2,0.4 -11.6,-0.4 -11.0,0.5 -10.4,-0.3 -9.8,0.7 -9.2,-0.1 -8.6,0.9 -8.0,0.1 -7.4,1.1 -6.8,0.3 -6.2,1.3 -5.6,0.6 -5.0,1.6 -4.4,1.0 -3.8,2.0 -3.2,1.4 -2.6,2.4 -2.0,1.9 -1.4,2.9 -0.8,2.4 -0.2,3.4 0.4,2.9 1.0,4.0 1.6,3.5 2.2,4.6 2.7,4.1 -1.2,3.6 0.2,4.2 1.3,4.9 -3.5,2.8 -6.5,2.0 -9.5,1.4 -12.5,1.0 -14.5,1.5 -14.9,5.2 3.0,5.1 2.8,5.6
4.6,5.0 5.0,5.7 5.4,4.6 5.8,5.3 6.2,4.5 6.6,5.1 7.0,4.7 7.4,5.2 7.7,4.8 5.5,6.2
-14.4,15.7 -10.9,10.8 -1.1,15.9 5.5,14.1 0.6,-1.2 0.8,7.1 2.3,6.5 1.5,6.9 11.3,-7.2 10.6,-8.9 12.7,-8.9 13.2,-9.0 9.6,-14.3`;
const pts10Extra = `-15.2,0.8 -14.7,-0.2 -13.7,0.6 -13.1,-0.1 -12.5,0.3 -11.9,-0.1 -11.3,0.8 -10.7,0.1 -10.1,0.9 -9.5,0.3 -8.9,1.1 -8.3,0.4 -7.7,1.4 -7.1,0.7 -6.5,1.6 -5.9,1.0 -5.3,2.0 -4.7,1.4 -4.1,2.4 -3.5,1.8 -2.9,2.8 -2.3,2.3 -1.7,3.2 -1.1,2.8 -0.5,3.7 0.1,3.3 0.7,4.3 1.3,3.9 1.9,4.5 2.4,4.8 -15.7,2.6 -15.2,1.6 -15.6,3.9 -14.9,3.3`;

const pts11 = `9.3,0.2 9.8,1.0 10.2,-0.6 10.6,1.6 11.0,0.3 11.4,-1.2 11.8,2.2 12.2,0.8 12.6,-0.4 13.0,2.8 13.4,1.4 13.8,-1.6 14.2,3.4 14.6,1.9 15.0,0.3 15.4,4.0 15.7,2.5 15.8,-0.9 15.3,-2.4 14.7,-0.9 14.1,0.6 13.5,-2.9 12.9,-1.8 12.3,2.9 11.7,1.3 11.1,-2.0 10.5,-0.2 10.0,2.3 15.6,-3.8 14.9,-3.0 14.3,-2.1 13.7,3.9 13.1,0.2 12.5,3.6 11.9,-0.5 15.1,4.8 14.5,4.2 15.7,1.0 14.0,2.5 12.0,1.6 13.2,-0.6 14.8,-1.8 12.7,-2.9 15.5,-5.0 14.2,-4.2 13.0,-3.8 11.5,-3.4
5.3,-0.3 6.2,-1.0 7.0,-0.2 7.8,-1.5 8.5,-0.6 9.0,-2.0 8.0,0.8 6.8,0.9 7.3,-3.2 8.3,-4.2 9.5,-3.6 10.4,-4.5 11.3,-6.8 9.6,-6.2 8.6,-5.8 12.5,-5.4 13.8,-5.8 14.8,-6.2 7.0,-4.8
-11.5,10.7 -12.0,7.1 -13.2,-10.0 -10.5,-7.2 -7.7,-4.0 -7.0,-5.8 -0.5,0.7 -0.5,-0.9 1.0,-0.3 4.1,5.7 6.3,-13.6 8.0,-14.5 12.1,-16.3`;
const pts11Extra = `10.8,0.9 11.3,1.8 11.6,-0.5 12.0,-1.4 12.4,1.2 12.8,0.2 13.2,2.2 13.6,0.8 14.0,-0.6 14.4,1.3 14.8,2.9 15.2,1.5 15.6,-1.6 15.0,-1.2 14.5,-3.5 13.9,-2.6 13.3,3.2 12.7,1.8 12.1,-2.4 11.5,0.6 10.9,-1.0 10.3,0.6 9.7,-0.4 15.5,3.2 14.9,3.8 14.3,-1.4 13.7,1.8 13.1,-1.4 15.8,0.2 15.3,-4.3`;

const pts12 = `-14.5,15.2 -12.0,15.4 -8.9,15.6 -7.6,15.0 -3.3,15.6 -1.6,15.8 1.0,14.5 3.5,12.8 6.5,13.6 10.4,15.8 11.8,15.0 13.5,15.3 15.0,14.7 -14.2,14.0 -10.8,14.6 -8.3,14.3 0.6,12.4 2.8,12.6 10.0,12.0 12.8,12.7 14.2,13.0
-14.8,10.3 -13.8,9.6 -12.3,10.0 -10.1,9.8 -6.0,10.0 -3.6,9.2 -0.2,8.6 2.2,10.0 5.4,9.5 8.7,9.0 11.3,10.4 13.9,9.0 -12.8,8.6 -7.0,7.2 -4.9,6.7 -1.6,6.5 1.4,7.5 4.0,7.9 6.8,6.8 9.3,6.2 12.5,6.8 14.9,6.5
-15.5,4.3 -14.8,3.3 -13.7,5.5 -12.0,2.6 -10.3,4.4 -8.5,2.4 -6.2,4.5 -4.0,2.4 -2.2,5.0 -0.6,3.0 1.5,1.6 3.0,2.9 5.6,4.6 7.8,1.3 10.3,3.6 12.4,2.2 14.5,4.2 15.8,1.0 -15.0,1.0 -13.6,1.5 -9.5,1.7 -5.5,0.5 -1.0,1.4 4.0,0.2 6.4,2.0 8.2,0.3 11.8,-0.3 13.4,0.5
-15.6,-1.9 -14.4,-2.6 -12.8,-1.0 -11.2,-1.9 -8.7,-0.5 -6.5,-2.7 -3.8,-0.9 -2.4,-3.0 0.2,-0.7 2.3,-2.0 4.9,-1.2 6.9,-3.0 9.0,-1.0 11.2,-2.6 13.1,-0.8 15.1,-3.1 -14.0,-4.5 -13.0,-5.6 -11.7,-4.0 -8.3,-4.6 -4.5,-5.0 -1.0,-4.4 1.8,-5.5 3.5,-4.0 6.3,-4.6 9.5,-5.8 12.0,-4.4 14.4,-5.4
-15.2,-6.0 -14.6,-5.2 -14.0,-6.8 -13.4,-5.9 -12.8,-7.0 -15.5,-7.6 -14.8,-8.2 -14.2,-7.4 -13.6,-8.7 -13.0,-8.0 -12.4,-8.9 -15.6,-9.3 -15.0,-9.8 -14.4,-9.1 -13.8,-10.2 -13.2,-9.5 -12.6,-10.4 -15.4,-10.9 -14.8,-11.6 -14.2,-10.7 -13.6,-11.9 -12.9,-11.2 -15.0,-12.6 -14.3,-13.0 -13.5,-13.6 -12.6,-12.4 -15.6,-14.0 -12.0,-6.5 -11.5,-9.2 -11.2,-11.8 -13.1,-14.8 -11.0,-14.4
-9.5,-7.0 -8.0,-9.4 -6.8,-11.3 -5.4,-8.9 -4.0,-10.3 -3.0,-12.0 -1.7,-7.6 -0.5,-10.0 0.7,-12.7 2.0,-8.5 3.4,-11.8 4.8,-7.2 5.8,-10.6 7.3,-12.0 8.6,-8.5 9.9,-10.6 11.1,-7.3 12.5,-9.4 13.8,-11.5 15.1,-8.6 15.6,-11.0 -9.0,-14.5 -7.0,-15.6 -4.5,-13.9 -1.0,-15.4 0.5,-15.6 2.2,-14.4 4.5,-15.0 7.9,-15.4 9.7,-15.2 12.0,-13.8 14.5,-14.6 -6.0,-6.0 -2.5,-6.2 1.0,-8.9 5.0,-9.0 10.8,-12.4 13.5,-7.0`;

const pts13 = `-15.8,15.5 -14.5,13.0 -13.2,14.8 -11.5,12.5 -9.8,13.8 -8.0,12.0 -6.4,15.5 -5.5,15.7 -4.6,13.2 -3.0,14.5 -1.5,15.6 -0.2,12.6 1.2,14.0 2.7,13.0 4.0,14.6 5.6,12.7 6.8,13.7 8.2,12.9 9.9,15.3 10.9,14.6 12.3,14.2 13.5,12.5 15.0,13.5 -12.4,10.0 -10.9,9.5 -9.2,10.8 -7.4,9.2 -5.9,10.4 -4.1,9.6 -2.6,11.4 -1.0,9.8 0.6,10.5 2.1,9.5 3.5,11.2 5.0,10.2 6.6,9.6 8.0,11.5 9.5,10.1 11.1,9.8 12.6,10.5 14.0,9.4 -15.5,8.1 -14.0,7.0 -13.0,6.1 -11.0,7.6 -9.5,6.2 -8.3,7.5 -6.8,6.8 -4.9,7.9 -3.4,6.1 -2.0,8.2 -0.6,6.8 1.9,7.3 3.8,8.0 6.1,7.6 7.5,6.0 9.5,8.2 11.0,6.8 12.3,8.3 13.4,7.5 14.1,6.7 14.6,8.0 15.3,6.2 13.7,5.5 14.5,4.7 15.4,3.8 14.0,3.3 12.8,5.8 15.8,5.0 12.0,4.0
-13.2,2.0 -12.2,1.8 -11.2,2.4 -10.3,0.8 -9.0,3.5 -7.5,4.0 -6.0,2.5 -4.7,3.6 -3.3,1.0 -1.8,2.8 0.1,3.3 1.4,0.5 3.0,1.8 4.8,3.0 6.2,1.0 7.9,3.8 9.2,1.5 10.5,2.5 -14.0,-0.5 -12.0,-0.6 -8.6,-1.0 -6.7,-0.5 -3.5,0.2 -0.7,-0.9 2.0,-1.2 3.6,-0.3 7.0,-0.8 10.0,-0.2 12.5,-1.0 15.0,-4.5 -13.4,-6.7 -10.5,-5.3 -7.2,-6.3 -4.5,-4.0 -1.5,-2.3 1.2,-3.0 4.5,-5.0 6.4,-2.6 8.5,-4.4 12.0,-3.5 12.3,-4.0 14.7,-2.7
-15.4,-10.5 -14.3,-9.2 -13.5,-9.8 -13.8,-11.0 -14.0,-12.0 -12.2,-10.2 -10.3,-8.2 -8.5,-10.8 -6.8,-9.5 -5.4,-11.8 -5.0,-13.2 -2.8,-8.5 -0.1,-11.0 2.0,-9.8 3.8,-12.8 5.4,-10.5 6.9,-11.0 7.8,-11.0 9.0,-7.8 10.5,-8.0 12.3,-10.0 -15.3,-15.4 -10.1,-15.6 -5.0,-15.9 0.5,-14.6 1.5,-15.4 2.5,-15.5 6.8,-14.9 8.9,-15.7 -3.5,-14.0 -7.5,-13.0 11.5,-13.5`;

const pts14 = `-15.8,16.3 -14.9,16.0 -14.0,16.4 -13.1,16.1 -12.2,16.5 -11.3,16.0 -10.4,16.3 -9.5,15.9 -8.6,16.2 -7.9,16.0 -15.7,15.2 -14.8,14.9 -13.9,15.3 -13.0,14.8 -12.1,15.2 -11.2,14.7 -10.3,15.1 -9.4,14.9 -15.8,14.0 -14.9,13.7 -14.0,14.1 -13.1,13.6 -12.2,14.0 -11.3,13.7 -15.6,12.8 -14.7,12.5 -13.8,12.9 -13.0,12.6 -15.8,11.6 -14.9,11.3 -15.7,10.4 -14.3,11.8 -12.6,13.2 -10.8,14.3 -9.0,15.3 -13.5,15.7 -11.8,15.9 -15.2,13.3 -14.4,14.6 -12.8,15.6
-0.3,15.1 8.1,15.5 14.1,12.4 -14.4,5.7 1.3,6.7 14.4,4.0 -5.4,0.4`;
const pts14Extra = `-15.4,16.5 -14.5,16.2 -13.6,16.0 -12.7,16.4 -11.8,16.1 -10.9,16.5 -10.0,16.0 -9.1,16.4 -8.3,16.5 -15.3,15.7 -14.4,15.5 -13.4,15.1 -12.5,15.0 -11.6,15.5 -10.7,14.9 -9.9,15.5 -15.3,14.5 -14.4,13.9 -13.5,14.5 -12.6,14.4 -11.7,14.3 -15.2,12.2 -14.2,12.9 -13.4,13.2 -12.4,13.7 -15.4,11.0 -14.5,12.1 -15.2,10.8`;

const panelPoints = [
  [pts0, pts0Extra], [pts1, pts1Extra], [pts2, pts2Extra], [pts3, pts3Extra],
  [pts4, pts4Extra], [pts5, pts5Extra], [pts6, pts6Extra], [pts7, pts7Extra],
  [pts8], [pts9, pts9Extra], [pts10, pts10Extra], [pts11, pts11Extra],
  [pts12], [pts13], [pts14, pts14Extra]
];

// ---------------- rendering ----------------
function parsePoints(s) {
  return s.trim().split(/\s+/).map(p => {
    const [a, b] = p.split(",").map(Number);
    return { x: a * 1000, y: b * 1000 };
  });
}

const svg = d3.select("#chart");
const FONT = '"Liberation Sans", Arial, sans-serif';

const panelW = 116.5, panelH = 92;
const colStep = 125.8, rowStep = 123.2;
const left0 = 90, top0 = 60, stripH = 22.5;
const nCol = 4;

const x = d3.scaleLinear().domain([-17500, 17500]).range([0, panelW]);
const y = d3.scaleLinear().domain([-18000, 18500]).range([panelH, 0]);

svg.append("text")
  .attr("x", 336).attr("y", 25)
  .attr("text-anchor", "middle")
  .attr("font-family", FONT).attr("font-size", 18).attr("font-weight", "bold")
  .attr("fill", "#000").text(title);

categories.forEach((cat, i) => {
  const col = i % nCol, row = Math.floor(i / nCol);
  const gx = left0 + col * colStep, gy = top0 + row * rowStep;
  const g = svg.append("g").attr("transform", `translate(${gx},${gy})`);

  g.append("rect").attr("x", 0).attr("y", -stripH).attr("width", panelW).attr("height", stripH)
    .attr("fill", "#c0c0c0");
  g.append("text").attr("x", panelW / 2).attr("y", -stripH / 2).attr("dy", "0.36em")
    .attr("text-anchor", "middle").attr("font-family", FONT).attr("font-size", 15.5)
    .attr("fill", "#1a1a1a").text(cat);

  const data = panelPoints[i].flatMap(parsePoints);
  g.append("g").selectAll("circle").data(data).join("circle")
    .attr("cx", d => x(d.x)).attr("cy", d => y(d.y)).attr("r", 1.5)
    .attr("fill", colors[i]);

  if (col === 0) {
    const ay = g.append("g").call(d3.axisLeft(y).tickValues(yTicks).tickSize(4.5).tickSizeOuter(0).tickPadding(4).tickFormat(d3.format("d")));
    styleAxis(ay);
  }
  if (i + nCol >= categories.length) {
    const ax = g.append("g").attr("transform", `translate(0,${panelH})`)
      .call(d3.axisBottom(x).tickValues(xTicks).tickSize(4.5).tickSizeOuter(0).tickPadding(4).tickFormat(d3.format("d")));
    styleAxis(ax);
  }
});

function styleAxis(a) {
  a.select(".domain").attr("stroke", "#000").attr("stroke-width", 1.1);
  a.selectAll(".tick line").attr("stroke", "#000").attr("stroke-width", 1.1);
  a.selectAll(".tick text").attr("font-family", FONT).attr("font-size", 15.5).attr("fill", "#000");
}

svg.append("text").attr("x", 337).attr("y", 564).attr("text-anchor", "middle")
  .attr("font-family", FONT).attr("font-size", 17.5).attr("fill", "#000").text("sdimx");
svg.append("text").attr("transform", "translate(24,291) rotate(-90)").attr("text-anchor", "middle")
  .attr("font-family", FONT).attr("font-size", 17.5).attr("fill", "#000").text("sdimy");

const lg = svg.append("g");
lg.append("text").attr("x", 603).attr("y", 141).attr("font-family", FONT).attr("font-size", 16.5)
  .attr("fill", "#000").text("Identity");
const legendY = d3.scalePoint().domain(categories).range([162.7, 450]);
categories.forEach((cat, i) => {
  lg.append("circle").attr("cx", 612.7).attr("cy", legendY(cat)).attr("r", 1.1).attr("fill", colors[i]);
  lg.append("text").attr("x", 632.5).attr("y", legendY(cat)).attr("dy", "0.36em")
    .attr("font-family", FONT).attr("font-size", 15.5).attr("fill", "#000").text(cat);
});
</script>
</body>
</html>
